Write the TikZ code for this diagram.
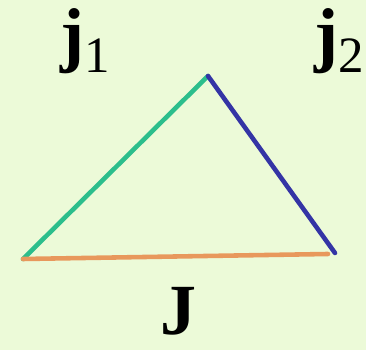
\documentclass[tikz,border=0pt]{standalone}
\usepackage{fontspec}
\setmainfont{Liberation Serif}
\usepackage{xcolor}
\definecolor{bgcol}{RGB}{236,250,216}
\definecolor{jonecol}{RGB}{44,190,140}
\definecolor{jtwocol}{RGB}{52,52,165}
\definecolor{jsumcol}{RGB}{232,152,92}
\tikzset{
  side/.style={line width=2.6pt, line cap=round},
  vlabel/.style={inner sep=0pt, anchor=base west, font=\fontsize{41}{48}\selectfont\bfseries}
}
\newcommand{\vecsub}[2]{#1\raisebox{-0.19em}{\fontsize{29}{32}\mdseries\selectfont #2}}

\begin{document}
\begin{tikzpicture}[x=0.02cm, y=-0.02cm]
  \fill[bgcol] (0,0) rectangle (366,350);
  \useasboundingbox (0,0) rectangle (366,350);

  % triangle corners
  \coordinate (left) at (23,259);
  \coordinate (top) at (208,76);
  \coordinate (right) at (335,253);
  \coordinate (rightend) at (328,254);

  \draw[side, jonecol] (left) -- (top);
  \draw[side, jtwocol] (top) -- (right);
  \draw[side, jsumcol] (left) -- (rightend);

  % labels
  \node[vlabel] (jone) at (60,59) {\vecsub{j}{1}};
  \node[vlabel] (jtwo) at (314,59) {\vecsub{j}{2}};
  \node[vlabel] (jsum) at (160,335) {J};
\end{tikzpicture}
\end{document}
